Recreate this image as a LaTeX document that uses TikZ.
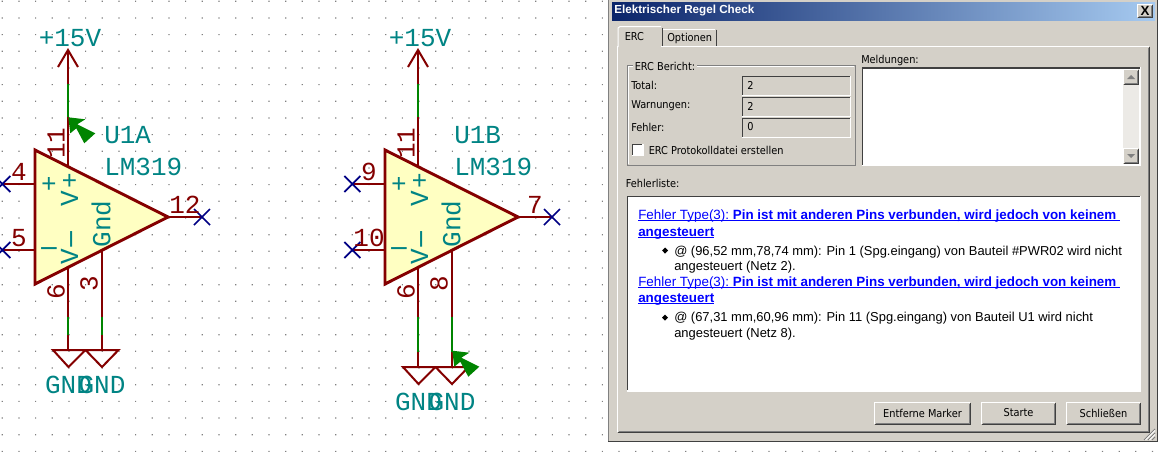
\documentclass[tikz,border=0pt]{standalone}
\usepackage{fontspec}
\setmainfont{Liberation Sans}
\newfontfamily\kifont{Liberation Mono}
\newfontfamily\uifont{DejaVu Sans Condensed}
\definecolor{wire}{HTML}{840000}
\definecolor{kteal}{HTML}{008484}
\definecolor{wgreen}{HTML}{008400}
\definecolor{xblue}{HTML}{000084}
\definecolor{pale}{HTML}{FFFFC2}
\definecolor{dlg}{HTML}{D4D0C8}
\definecolor{dark}{HTML}{404040}
\definecolor{mid}{HTML}{808080}
\definecolor{tbl}{HTML}{0A246A}
\definecolor{tbr}{HTML}{A6CAF0}
\definecolor{lnk}{HTML}{0000FF}
\newcommand\kifs[1]{\fontsize{#1}{#1}\selectfont\kifont}
\newcommand\uifs{\fontsize{8.15}{10}\selectfont\uifont}
\newcommand\txfs{\fontsize{9.7}{11}\selectfont}
\newcommand\lkfs{\fontsize{10.05}{11}\selectfont}
\newsavebox\ulb
\newcommand\ulk[1]{\sbox\ulb{#1}\usebox\ulb\llap{\rule[-1.3pt]{\wd\ulb}{0.75pt}}}
\newcommand\wdash{\makebox[11.7pt][c]{\scalebox{2.2}[1]{-}}}
\tikzset{
  x=0.75pt,y=-0.75pt,
  wirep/.style={draw=wire,line width=1.5pt},
  wgr/.style={draw=wgreen,line width=1.5pt},
  bodyp/.style={draw=wire,fill=pale,line width=2.2pt,line join=miter},
  xcross/.style={draw=xblue,line width=1.3pt},
  pinlab/.style={text=wire,inner sep=0pt,font=\kifs{19.5}},
  complab/.style={text=kteal,inner sep=0pt,font=\kifs{19.5}},
  insidelab/.style={text=kteal,inner sep=0pt,font=\kifs{19.5}},
  ui/.style={inner sep=0pt,anchor=west,font=\uifs,text=black},
  tx/.style={inner sep=0pt,anchor=base west,font=\txfs,text=black},
  lk/.style={inner sep=0pt,anchor=base west,font=\lkfs,text=lnk},
  uic/.style={inner sep=0pt,font=\uifs,text=black},
}
\newcommand\ercmark[2]{%
  \fill[wgreen,shift={(#1,#2)}] (0,0) -- (17,2) -- (9,7) -- (27,16) -- (16,26) -- (8,11) -- (2,16) -- cycle;}
\newcommand\raised[4]{%
  \fill[dlg] (#1,#2) rectangle (#3,#4);
  \draw[white,line width=0.75pt] (#1+.5,#4-1) -- (#1+.5,#2+.5) -- (#3-1,#2+.5);
  \draw[dark,line width=0.75pt] (#1+.5,#4-.5) -- (#3-.5,#4-.5) -- (#3-.5,#2+.5);
  \draw[mid,line width=0.75pt] (#1+1.5,#4-1.5) -- (#3-1.5,#4-1.5) -- (#3-1.5,#2+1.5);}
\newcommand\sunken[5]{%
  \fill[#5] (#1,#2) rectangle (#3,#4);
  \draw[dark,line width=1.1pt] (#1+.8,#4-1) -- (#1+.8,#2+.8) -- (#3-1,#2+.8);
  \draw[white,line width=1.1pt] (#1,#4-.5) -- (#3-.5,#4-.5) -- (#3-.5,#2);}
% 1 prefix, 2 reference, 3 upper pin, 4 lower pin, 5 output pin, 6 gnd pin, 7 gnd y offset
\newcommand\comparator[7]{%
  \coordinate (#1-v) at (68,167);
  \coordinate (#1-vtip) at (68,50);
  \coordinate (#1-in) at (35,184);
  \coordinate (#1-ip) at (35,250);
  \coordinate (#1-o) at (168,217);
  \coordinate (#1-g1) at (68,267);
  \coordinate (#1-g2) at (102,250);
  \coordinate (#1-xa) at (2.3,184);
  \coordinate (#1-xb) at (2.3,250);
  \coordinate (#1-xc) at (202,217);
  \coordinate (#1-p1) at (68,350+#7);
  \coordinate (#1-p2) at (102,350+#7);
  \draw[wirep] (#1-v) -- (#1-vtip);
  \draw[wirep] (58,67) -- (#1-vtip) -- (78,67);
  \draw[wgr] (68,84) -- (68,117);
  \draw[wirep] (#1-in) -- (#1-xa);
  \draw[wirep] (#1-ip) -- (#1-xb);
  \draw[wirep] (#1-o) -- (#1-xc);
  \draw[wirep] (#1-g1) -- (#1-p1);
  \draw[wirep] (#1-g2) -- (#1-p2);
  \draw[wgr] (68,317) -- (68,335+#7);
  \draw[wgr] (102,317) -- (102,335+#7);
  \draw[bodyp] (35,150) -- (168,217) -- (35,284) -- cycle;
  \draw[xcross] (#1-xa) ++(-8,-8) -- ++(16,16) ++(-16,0) -- ++(16,-16);
  \draw[xcross] (#1-xb) ++(-8,-8) -- ++(16,16) ++(-16,0) -- ++(16,-16);
  \draw[xcross] (#1-xc) ++(-8,-8) -- ++(16,16) ++(-16,0) -- ++(16,-16);
  \draw[wirep,line join=miter] (53,350+#7) -- (85.5,350+#7) -- (68.5,367+#7) -- cycle;
  \draw[wirep,line join=miter] (85.5,350+#7) -- (118.5,350+#7) -- (102,367+#7) -- cycle;
  \node[complab] (#1-pwr) at (70,38) {+15V};
  \node[complab,anchor=west] (#1-ref) at (104,135) {#2};
  \node[complab,anchor=west] (#1-val) at (104,167) {LM319};
  \node[complab] (#1-g1l) at (68.5,384.5+#7) {GND};
  \node[complab] (#1-g2l) at (102,384.5+#7) {GND};
  \node[insidelab] (#1-ps) at (49,185) {+};
  \node[insidelab] (#1-ms) at (49,252) {\wdash};
  \node[insidelab,rotate=90] (#1-vp) at (69.5,190) {V\kern1.8pt+};
  \node[insidelab,rotate=90] (#1-vm) at (69.5,248) {V\kern1.8pt\wdash};
  \node[insidelab,rotate=90] (#1-gnd) at (101,224) {Gnd};
  \node[pinlab,rotate=90] (#1-n11) at (56,143) {11};
  \node[pinlab] (#1-nu) at (19,172) {#3};
  \node[pinlab] (#1-nl) at (19,238) {#4};
  \node[pinlab] (#1-no) at (185,205) {#5};
  \node[pinlab,rotate=90] (#1-n6) at (56,292) {6};
  \node[pinlab,rotate=90] (#1-ng) at (89,284) {#6};
}
\begin{document}
\begin{tikzpicture}
\useasboundingbox (0,0) rectangle (1167,451);
\fill[white] (0,0) rectangle (1167,451);
% sheet grid
\fill[mid] foreach \i in {0,...,70} { foreach \j in {0,...,27} {
  ({1.67+16.67*\i},{0.67+16.67*\j}) rectangle ++(1.2,1.2) } };
\comparator{a}{U1A}{4}{5}{12}{3}{0}
\ercmark{68.3}{117.3}
\begin{scope}[shift={(350,0)}]
\comparator{b}{U1B}{9}{10}{7}{8}{17}
\ercmark{102.3}{350.7}
\end{scope}
% dialog window
\fill[dlg] (608,0) rectangle (1158,442);
\draw[mid,line width=0.75pt] (608.5,0) -- (608.5,441.5);
\draw[dark,line width=1pt] (1157.3,0) -- (1157.3,441.5) -- (608,441.5);
\shade[left color=tbl,right color=tbr] (612,2) rectangle (1155,20);
\node[anchor=west,inner sep=0pt,text=white,font=\fontsize{8.75}{10}\selectfont\bfseries] (title) at (614,11) {Elektrischer Regel Check};
\raised{1137}{4}{1153}{18}
\node[inner sep=0pt,font=\fontsize{10}{10}\selectfont\bfseries] (closex) at (1145,10.5) {X};
% tab panel
\raised{617}{46}{1150}{433}
\draw[white,line width=0.75pt] (662.5,46) -- (662.5,29.5) -- (715,29.5);
\draw[dark,line width=0.75pt] (716,29.5) -- (716,46);
\fill[dlg] (618,27) rectangle (661,47.5);
\draw[white,line width=0.75pt] (618,47) -- (618,28) -- (620,26.5) -- (661,26.5);
\draw[dark,line width=0.75pt] (662,28) -- (662,46);
\node[ui] (tab1) at (624.5,36.5) {ERC};
\node[ui] (tab2) at (667,38) {Optionen};
% ERC report group
\draw[mid,line width=0.75pt] (627,65) rectangle (855,165);
\draw[white,line width=0.5pt] (628,66) -- (628,164) (628,66) -- (854,66);
\fill[dlg] (633,60) rectangle (697,71);
\node[ui] (gb) at (634.5,66) {ERC Bericht:};
\node[ui] (l1) at (631,85) {Total:};
\node[ui] (l2) at (631,106) {Warnungen:};
\node[ui] (l3) at (631,127) {Fehler:};
\sunken{741.5}{75.5}{851}{96}{dlg}
\sunken{741.5}{96.5}{851}{117}{dlg}
\sunken{741.5}{117.5}{851}{138}{dlg}
\node[ui] (v1) at (747,85.5) {2};
\node[ui] (v2) at (747,106.5) {2};
\node[ui] (v3) at (747,127) {0};
\sunken{631.5}{143.5}{643.5}{156}{white}
\node[ui] (chk) at (648.5,150) {ERC Protokolldatei erstellen};
% messages
\node[ui] (mel) at (861,60.5) {Meldungen:};
\sunken{861.5}{67}{1141}{166}{white}
\fill[dlg!45!white] (1123,69) rectangle (1139,164);
\raised{1123}{69}{1139}{85}
\fill[mid] (1127,79) -- (1135,79) -- (1131,75) -- cycle;
\raised{1123}{148}{1139}{164}
\fill[mid] (1127,154) -- (1135,154) -- (1131,158) -- cycle;
% error list
\node[ui] (fel) at (625.5,183) {Fehlerliste:};
\sunken{626.5}{195.5}{1141}{391.5}{white}
\node[lk] (t1) at (638,219.5) {\ulk{Fehler Type(3):\ }\ulk{\textbf{Pin ist mit anderen Pins verbunden, wird jedoch von keinem\ }}};
\node[lk,font=\lkfs\bfseries] (t2) at (638,236) {\ulk{angesteuert}};
\fill[black] (665,247.5) -- (668,250.5) -- (665,253.5) -- (662,250.5) -- cycle;
\node[tx] (t3) at (674,255) {@ (96,52 mm,78,74 mm): Pin 1 (Spg.eingang) von Bauteil \#PWR02 wird nicht};
\node[tx] (t4) at (674,270.7) {angesteuert (Netz 2).};
\node[lk] (t5) at (638,286.7) {\ulk{Fehler Type(3):\ }\ulk{\textbf{Pin ist mit anderen Pins verbunden, wird jedoch von keinem\ }}};
\node[lk,font=\lkfs\bfseries] (t6) at (638,302.7) {\ulk{angesteuert}};
\fill[black] (665,314.5) -- (668,317.5) -- (665,320.5) -- (662,317.5) -- cycle;
\node[tx] (t7) at (674,321.7) {@ (67,31 mm,60,96 mm): Pin 11 (Spg.eingang) von Bauteil U1 wird nicht};
\node[tx] (t8) at (674,337.3) {angesteuert (Netz 8).};
% buttons
\raised{874}{402}{971}{425}
\node[uic] (b1) at (922.5,413) {Entferne Marker};
\raised{981}{402}{1056}{425}
\node[uic] (b2) at (1018.5,413) {Starte};
\raised{1066}{402}{1141}{425}
\node[uic] (b3) at (1103.5,413) {Schließen};
% size grip
\draw[mid,line width=0.75pt] (1155,429) -- (1144,440) (1155,433) -- (1148,440) (1155,437) -- (1152,440);
\draw[white,line width=0.75pt] (1155,430.5) -- (1145.5,440) (1155,434.5) -- (1149.5,440);
\end{tikzpicture}
\end{document}
